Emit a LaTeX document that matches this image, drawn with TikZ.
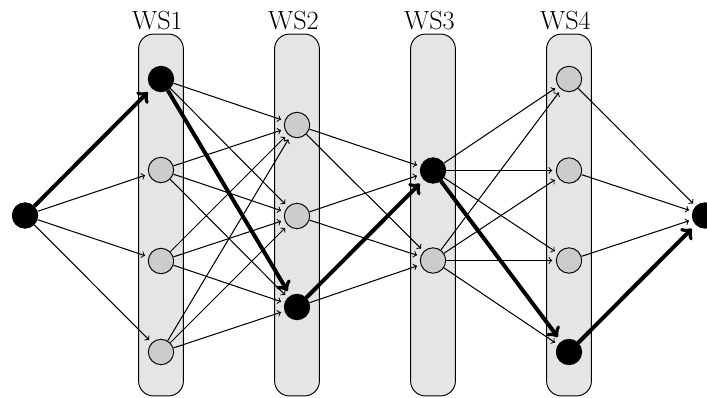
\documentclass[tikz,border=0pt]{standalone}
\begin{document}
\begin{tikzpicture}[x=0.022059cm,y=-0.022059cm,
  col/.style={draw, fill=gray!20, rounded corners=0.33cm, minimum width=0.99cm, minimum height=7.985cm, line width=0.6pt, inner sep=0pt},
  unit/.style={circle, draw, fill=gray!40, minimum size=0.56cm, inner sep=0pt, line width=0.6pt},
  sel/.style={unit, fill=black},
  lbl/.style={font=\fontsize{16.5}{19}\selectfont, inner sep=0pt, anchor=base},
  link/.style={->, line width=0.65pt, shorten >=0.08cm},
  best/.style={->, line width=2.5pt, shorten >=0.12cm}]
\useasboundingbox (0,0) rectangle (707,398);
% columns
\foreach \x/\n in {161/1,297/2,433/3,569/4}{
  \node[col] (col\n) at (\x,215) {};
  \node[lbl] (ws\n) at (\x-3.5,30) {WS\n};
}
% units
\node[sel]  (s)  at (25,215.5) {};
\node[sel]  (a1) at (161,79) {};
\node[unit] (a2) at (161,170) {};
\node[unit] (a3) at (161,261) {};
\node[unit] (a4) at (161,352) {};
\node[unit] (b1) at (297,125) {};
\node[unit] (b2) at (297,216) {};
\node[sel]  (b3) at (297,307) {};
\node[sel]  (c1) at (433,170.5) {};
\node[unit] (c2) at (433,260.5) {};
\node[unit] (d1) at (569,79) {};
\node[unit] (d2) at (569,170.5) {};
\node[unit] (d3) at (569,260.5) {};
\node[sel]  (d4) at (569,352) {};
\node[sel]  (t)  at (705,215.5) {};
% thin links
\foreach \j in {2,3,4} \draw[link] (s) -- (a\j);
\foreach \i in {1,2,3,4} \foreach \j in {1,2,3} {
  \ifnum\i\j=13\else\draw[link] (a\i) -- (b\j);\fi }
\foreach \i in {1,2,3} \foreach \j in {1,2} {
  \ifnum\i\j=31\else\draw[link] (b\i) -- (c\j);\fi }
\foreach \i in {1,2} \foreach \j in {1,2,3,4} {
  \ifnum\i\j=14\else\draw[link] (c\i) -- (d\j);\fi }
\foreach \i in {1,2,3} \draw[link] (d\i) -- (t);
% best path
\draw[best] (s) -- (a1);
\draw[best] (a1) -- (b3);
\draw[best] (b3) -- (c1);
\draw[best] (c1) -- (d4);
\draw[best] (d4) -- (t);
\end{tikzpicture}
\end{document}
